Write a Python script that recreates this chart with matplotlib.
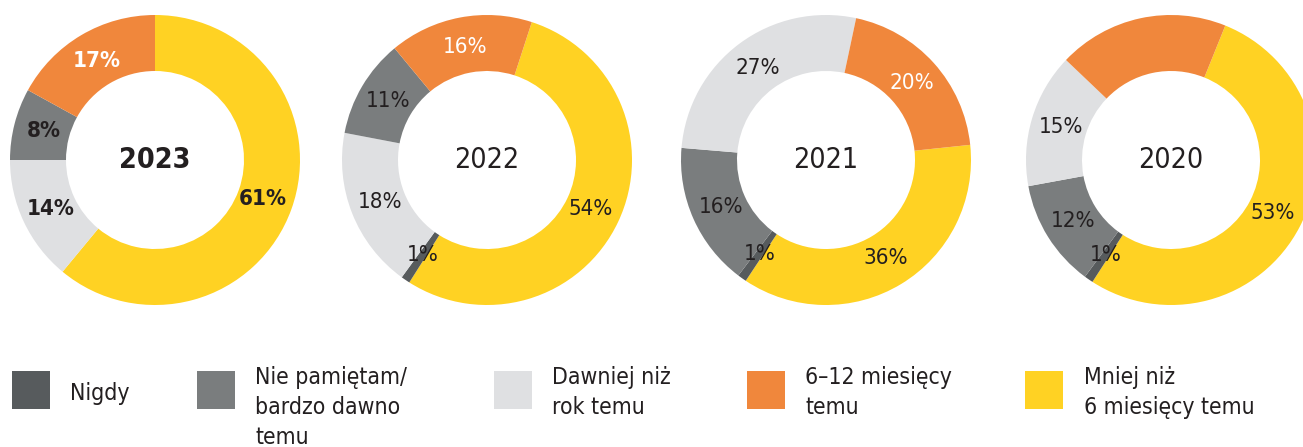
import numpy as np
import matplotlib.pyplot as plt
from matplotlib.patches import Rectangle

# Odsetki odpowiedzi w kolejnych latach
years = ['2023', '2022', '2021', '2020']
categories = ['Nigdy', 'Nie pamiętam/\nbardzo dawno\ntemu', 'Dawniej niż\nrok temu',
              '6–12 miesięcy\ntemu', 'Mniej niż\n6 miesięcy temu']
nigdy = [0, 1, 1, 1]
nie_pamietam = [8, 11, 16, 12]
dawniej = [14, 18, 27, 15]
od_6_do_12 = [17, 16, 20, 19]
mniej_niz_6 = [61, 54, 36, 53]
series = [nigdy, nie_pamietam, dawniej, od_6_do_12, mniej_niz_6]

colors = ['#575b5d', '#7a7d7e', '#dfe0e2', '#f0873c', '#ffd223']
text_dark = '#231f20'

# kolejnosc wycinkow (zgodnie z ruchem wskazowek) i kat startowy dla kazdego roku
slice_order = [[4, 0, 2, 1, 3], [4, 0, 2, 1, 3], [4, 0, 1, 2, 3], [4, 0, 1, 2, 3]]
start_angles = [90, 72, 6, 68]
centers_x = [155, 487, 826, 1171]
center_y = 447 - 160
radius = 145
ring = 56

FONT = dict(family='DejaVu Sans', fontstretch='condensed')

fig = plt.figure(figsize=(13.03, 4.47), dpi=100)
ax = fig.add_axes([0, 0, 1, 1])

for i, year in enumerate(years):
    order = slice_order[i]
    vals = [series[k][i] for k in order]
    wedges, _ = ax.pie(vals, colors=[colors[k] for k in order],
                       startangle=start_angles[i], counterclock=False,
                       radius=radius, center=(centers_x[i], center_y),
                       wedgeprops=dict(width=ring, linewidth=0))
    bold = 'bold' if year == '2023' else 'normal'
    ax.text(centers_x[i], center_y, year, ha='center', va='center',
            fontsize=20.5, color=text_dark, fontweight=bold, **FONT)
    for w, k, v in zip(wedges, order, vals):
        # brak etykiety dla pustych wycinkow i pomaranczowego w 2020
        if v == 0 or (year == '2020' and k == 3):
            continue
        ang = np.deg2rad((w.theta1 + w.theta2) / 2)
        r = radius - ring / 2 - 2
        col = 'white' if k == 3 else text_dark
        ax.text(centers_x[i] + r * np.cos(ang), center_y + r * np.sin(ang),
                f'{v}%', ha='center', va='center', fontsize=16,
                color=col, fontweight=bold, **FONT)

# legenda
box_x = [12, 197, 494, 747, 1025]
text_x = [70, 255, 552, 805, 1084]
for k, label in enumerate(categories):
    ax.add_patch(Rectangle((box_x[k], 447 - 409), 38, 38, color=colors[k], lw=0))
    lines = label.split('\n')
    base = 447 - 400 if len(lines) == 1 else 447 - 384
    for j, line in enumerate(lines):
        ax.text(text_x[k], base - 30 * j, line, ha='left', va='baseline',
                fontsize=16.5, color=text_dark, **FONT)

ax.set_xlim(0, 1303)
ax.set_ylim(0, 447)
ax.set_aspect('equal')
ax.axis('off')

fig.savefig('out.png', dpi=100)
